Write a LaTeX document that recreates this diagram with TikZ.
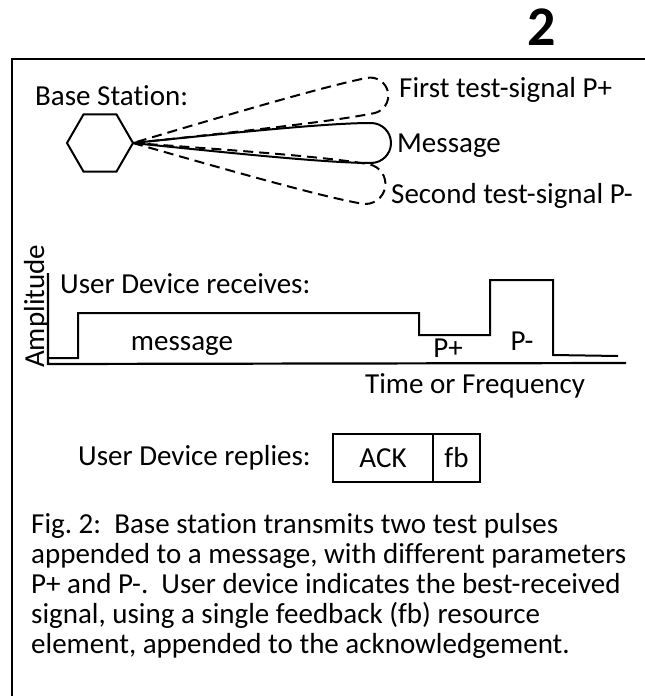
\documentclass[tikz,border=0pt]{standalone}
\usepackage{fontspec}
\setmainfont{Carlito}[Ligatures=CommonOff]
\usepackage{tikz}
\usetikzlibrary{positioning, shapes.geometric}
\frenchspacing

% one lobe of the antenna pattern: length #1, half width #2
\newcommand{\beam}[2]{(0,0) .. controls (0.45*#1,0.6*#2) and (#1-#2-40,#2) .. (#1-#2,#2)
  .. controls (#1-0.448*#2,#2) and (#1,0.552*#2) .. (#1,0)
  .. controls (#1,-0.552*#2) and (#1-0.448*#2,-#2) .. (#1-#2,-#2)
  .. controls (#1-#2-40,-#2) and (0.45*#1,-0.6*#2) .. (0,0)}

\tikzset{
  lbl/.style={inner sep=0pt, font=\fontsize{29}{30}\selectfont},
  lobe/.style={line width=2pt},
  testlobe/.style={lobe, dash pattern=on 10pt off 6pt},
  wave/.style={line width=2pt},
  cell/.style={draw, line width=2pt, outer sep=0pt, inner sep=0pt, minimum height=48pt,
    font=\fontsize{29}{30}\selectfont},
}

\begin{document}
\begin{tikzpicture}[x=1pt, y=-1pt]
\useasboundingbox (0,0) rectangle (645,696);
\clip (0,0) rectangle (645,696);
% Frame
\draw[line width=2.2pt] (12,720) -- (12,59) -- (680,59);
\node[inner sep=0pt, font=\fontsize{56}{60}\selectfont\bfseries] (fignum) at (542,27) {2};
% Base station and its beams
\node[lbl, anchor=base west] (bslbl) at (35,105) {Base Station:};
\node[draw, regular polygon, regular polygon sides=6, minimum size=66pt, inner sep=0pt,
  outer sep=0pt, line width=2pt] (bs) at (100,143) {};
\begin{scope}[shift={(bs.east)}]
\draw[lobe] \beam{258}{20};
\draw[testlobe, rotate=11.3] \beam{260}{18};
\draw[testlobe, rotate=-10] \beam{256}{20};
\end{scope}
\node[lbl, anchor=base west] (pplus) at (399,97) {First test-signal P+};
\node[lbl, anchor=base west] (msgbeam) at (397,152) {Message};
\node[lbl, anchor=base west] (pminus) at (391,203) {Second test-signal P-};
% Received signal
\node[lbl, rotate=90, anchor=base west] (amp) at (44,368) {Amplitude};
\node[lbl, anchor=base west] (rx) at (60,293) {User Device receives:};
\draw[line width=2.2pt] (48,273) -- (48,364) -- (626,363);
\draw[wave] (48,358) -- (78,358) -- (78,313) -- (419,313) -- (419,335) -- (490,335)
  -- (490,280) -- (553,280) -- (553,355) -- (618,356);
\node[lbl, anchor=base] (msg) at (182,350) {message};
\node[lbl, anchor=base] (sp) at (448,357) {P+};
\node[lbl, anchor=base] (sm) at (522,350) {P-};
\node[lbl, anchor=base west] (tf) at (365,393) {Time or Frequency};
% Reply
\node[lbl, anchor=base west] (tx) at (78,465) {User Device replies:};
\node[cell, minimum width=100pt] (ack) at (383,458) {ACK};
\node[cell, minimum width=47pt, right=0pt of ack] (fb) {fb};
% Caption
\foreach \ln [count=\i from 0] in {{Fig. 2:\ \ Base station transmits two test pulses},
  {appended to a message, with different parameters},
  {P+ and P-.\ \ User device indicates the best-received},
  {signal, using a single feedback (fb) resource},
  {element, appended to the acknowledgement.}}
  \node[lbl, anchor=base west] (cap\i) at (31,533+30*\i) {\ln};
\end{tikzpicture}
\end{document}
